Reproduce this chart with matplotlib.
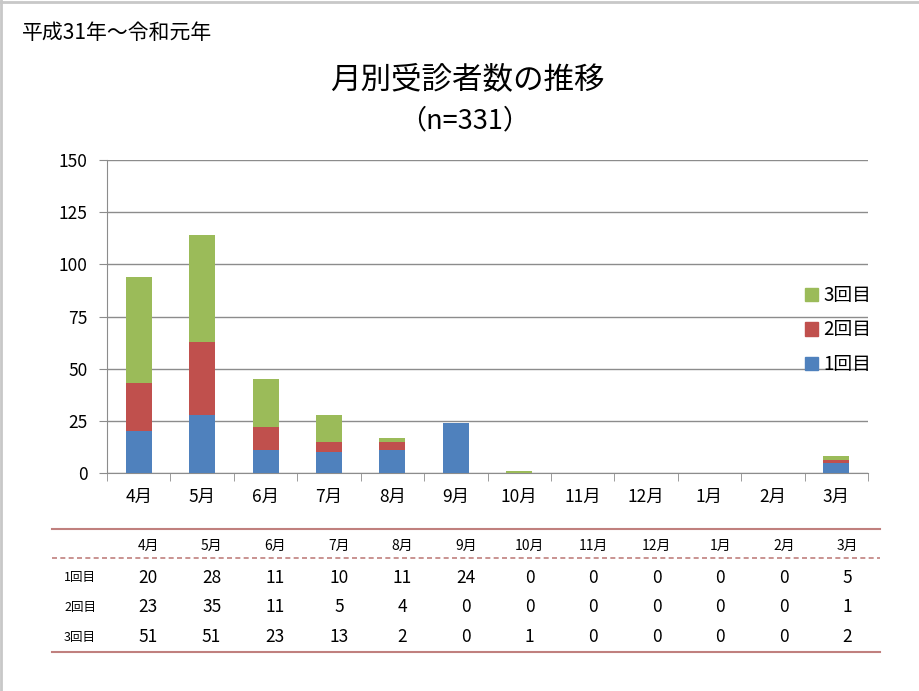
import matplotlib
matplotlib.use("Agg")
import matplotlib.pyplot as plt
import numpy as np
from matplotlib.lines import Line2D
from matplotlib.patches import Patch

plt.rcParams['font.family'] = ['Noto Sans CJK JP', 'DejaVu Sans']

months = ['4月', '5月', '6月', '7月', '8月', '9月', '10月', '11月', '12月', '1月', '2月', '3月']
series_names = ['1回目', '2回目', '3回目']
first = [20, 28, 11, 10, 11, 24, 0, 0, 0, 0, 0, 5]
second = [23, 35, 11, 5, 4, 0, 0, 0, 0, 0, 0, 1]
third = [51, 51, 23, 13, 2, 0, 1, 0, 0, 0, 0, 2]
y_ticks = [0, 25, 50, 75, 100, 125, 150]
colors = ['#4F81BD', '#C0504D', '#9BBB59']

W, H = 919, 691
fig = plt.figure(figsize=(W / 100, H / 100), dpi=100)

def fx(px):
    return px / W

def fy(py):
    return 1 - py / H

# Slide border (top/left)
fig.add_artist(Line2D([0, 1], [fy(1.5), fy(1.5)], transform=fig.transFigure, color='#c8c8c8', lw=2))
fig.add_artist(Line2D([fx(1), fx(1)], [0, 1], transform=fig.transFigure, color='#c8c8c8', lw=2))

fig.text(fx(22), fy(33), '平成31年～令和元年', fontsize=15, va='center', ha='left')
fig.text(fx(467), fy(80), '月別受診者数の推移', fontsize=22, va='center', ha='center')
fig.text(fx(465), fy(121), '（n=331）', fontsize=19.5, va='center', ha='center')

ax = fig.add_axes([fx(107), fy(473), fx(868) - fx(107), fy(160) - fy(473)])
x = np.arange(len(months))
data = [first, second, third]
bottom = np.zeros(len(months))
for vals, c, name in zip(data, colors, series_names):
    ax.bar(x, vals, width=0.41, bottom=bottom, color=c, label=name, zorder=3)
    bottom += np.array(vals)

ax.set_xlim(-0.5, len(months) - 0.5)
ax.set_ylim(0, 150)
ax.set_yticks(y_ticks)
ax.set_yticklabels([str(v) for v in y_ticks], fontsize=12.5)
ax.yaxis.grid(True, color='#8c8c8c', lw=1, zorder=0)
ax.set_axisbelow(True)
ax.set_xticks(x)
ax.set_xticklabels(months, fontsize=12.5)
ax.set_xticks(np.arange(-0.5, len(months)), minor=True)
ax.tick_params(axis='x', which='major', length=0, pad=11)
ax.tick_params(axis='x', which='minor', length=6, color='#8c8c8c', direction='out')
ax.tick_params(axis='y', length=6, color='#8c8c8c', direction='out', pad=8)
for s in ['top', 'right']:
    ax.spines[s].set_visible(False)
ax.spines['left'].set_color('#8c8c8c')
ax.spines['bottom'].set_color('#8c8c8c')

handles = [Patch(color=c) for c in colors][::-1]
labels = series_names[::-1]
leg = ax.legend(handles, labels, loc='center left', bbox_to_anchor=((797 - 107) / (868 - 107), (473 - 330) / (473 - 160)),
                frameon=False, fontsize=13.5, handlelength=0.7, handleheight=0.7,
                handletextpad=0.3, labelspacing=0.7, borderaxespad=0)

# Table
line_col = '#c0807e'
fig.add_artist(Line2D([fx(52), fx(880)], [fy(529), fy(529)], transform=fig.transFigure, color=line_col, lw=1.5))
fig.add_artist(Line2D([fx(52), fx(880)], [fy(558), fy(558)], transform=fig.transFigure, color=line_col, lw=1.2, ls=(0, (3, 2))))
fig.add_artist(Line2D([fx(52), fx(880)], [fy(652), fy(652)], transform=fig.transFigure, color=line_col, lw=1.5))

col0, dcol = 148, 63.6
for i, m in enumerate(months):
    fig.text(fx(col0 + i * dcol), fy(546), m, fontsize=10, ha='center', va='center')
row_y = [578, 607, 637]
for r, (name, vals) in enumerate(zip(series_names, data)):
    fig.text(fx(80), fy(row_y[r]), name, fontsize=9, ha='center', va='center')
    for i, v in enumerate(vals):
        fig.text(fx(col0 + i * dcol), fy(row_y[r]), str(v), fontsize=12.5, ha='center', va='center')

fig.savefig('out.png', dpi=100)
